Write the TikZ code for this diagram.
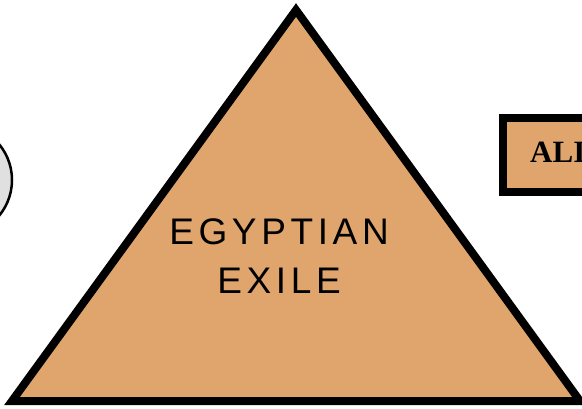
\documentclass[tikz,border=0pt]{standalone}
\usepackage{fontspec}
\setmainfont{Liberation Serif}
\newfontfamily\exilefont[LetterSpace=12.5]{Liberation Sans}
\usetikzlibrary{positioning}

\definecolor{sand}{HTML}{DFA56D}
\definecolor{stone}{HTML}{E0E0E0}

\tikzset{
    pyramid/.style={draw=black, line width=8pt, fill=sand, line join=miter},
    stagebox/.style={draw=black, line width=8pt, fill=sand, inner sep=0pt},
    stagedisc/.style={circle, draw=black, line width=2.5pt, fill=stone, inner sep=0pt},
}

\begin{document}
\begin{tikzpicture}[x=1pt, y=-1pt]

    \useasboundingbox (0,0) rectangle (582,408);
    \clip (0,0) rectangle (582,408);

    % -------------------------------------------------------------
    % left neighbour (cut off by the page)
    % -------------------------------------------------------------
    \node (disc) [stagedisc, minimum size=112pt] at (-44,180) {};

    % -------------------------------------------------------------
    % the pyramid
    % -------------------------------------------------------------
    \coordinate (apex) at (296,10);
    \coordinate (left) at (12,401);
    \coordinate (right) at (580,401);
    \draw[pyramid] (apex) -- (left) -- (right) -- cycle;

    \node (egyptian) [anchor=base, font=\exilefont\fontsize{37}{45}\selectfont] at (279,244) {EGYPTIAN};
    \node (exile) [below=49.5pt of egyptian.base, anchor=base, font=\exilefont\fontsize{37}{45}\selectfont] {EXILE};

    % -------------------------------------------------------------
    % right neighbour (cut off by the page)
    % -------------------------------------------------------------
    \node (alibox) [stagebox, minimum width=150pt, minimum height=74pt, anchor=north west] at (499,114) {};
    \node (ali) [anchor=base west, inner sep=0pt, font=\bfseries\fontsize{31}{36}\selectfont] at (530,162) {ALI};

\end{tikzpicture}
\end{document}
